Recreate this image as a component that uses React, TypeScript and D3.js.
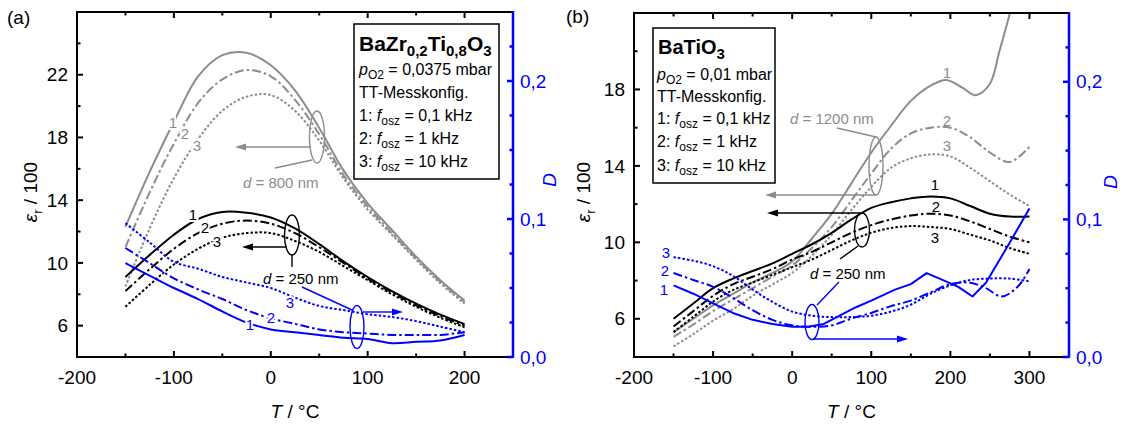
import React from 'react';
import * as d3 from 'd3';

// ---------- Panel (a): BaZr0,2Ti0,8O3 ----------
const tempA = [-150, -125, -100, -75, -50, -25, 0, 25, 50, 75, 100, 125, 150, 175, 200];
const aEpsGray1 = [12.3, 15.8, 19.0, 21.9, 23.25, 23.4, 22.6, 21.0, 18.6, 15.9, 13.8, 12.1, 10.4, 8.9, 7.6];
const aEpsGray2 = [11.0, 14.5, 17.6, 20.2, 21.7, 22.3, 21.9, 20.4, 18.2, 15.6, 13.6, 11.9, 10.3, 8.8, 7.5];
const aEpsGray3 = [8.5, 12.2, 15.4, 17.9, 19.7, 20.6, 20.7, 19.7, 17.8, 15.4, 13.4, 11.8, 10.2, 8.7, 7.4];
const aEpsBlack1 = [9.1, 10.5, 11.8, 12.8, 13.25, 13.2, 12.9, 12.2, 11.2, 10.1, 9.1, 8.2, 7.4, 6.7, 6.1];
const aEpsBlack2 = [8.2, 9.6, 10.9, 11.9, 12.5, 12.7, 12.5, 11.9, 11.0, 10.0, 9.0, 8.1, 7.3, 6.6, 6.0];
const aEpsBlack3 = [7.2, 8.6, 9.9, 10.9, 11.6, 11.9, 11.9, 11.4, 10.7, 9.8, 8.9, 8.0, 7.2, 6.5, 5.9];
const aDBlue1 = [0.068, 0.059, 0.05, 0.042, 0.033, 0.025, 0.02, 0.018, 0.016, 0.014, 0.013, 0.01, 0.011, 0.012, 0.016];
const aDBlue2 = [0.079, 0.068, 0.057, 0.049, 0.042, 0.034, 0.028, 0.024, 0.02, 0.018, 0.017, 0.016, 0.016, 0.016, 0.018];
const aDBlue3 = [0.097, 0.083, 0.069, 0.064, 0.058, 0.054, 0.05, 0.043, 0.037, 0.034, 0.031, 0.029, 0.026, 0.022, 0.018];

// ---------- Panel (b): BaTiO3 ----------
const tempB = [-150, -125, -100, -75, -50, -25, 0, 25, 50, 75, 100, 125, 150, 175, 200, 225, 250, 275, 300];
const tempBGray1 = [-150, -125, -100, -75, -50, -25, 0, 25, 50, 75, 100, 125, 150, 175, 195, 215, 232, 250, 262, 276, 290];
const bEpsGray1 = [5.3, 6.0, 6.7, 7.3, 7.9, 8.4, 9.0, 10.2, 11.5, 13.1, 14.7, 16.1, 17.4, 18.2, 18.5, 18.1, 17.7, 18.3, 20.0, 22.1, 24.5];
const bEpsGray2 = [5.05, 5.7, 6.4, 7.0, 7.6, 8.2, 8.8, 9.7, 10.8, 12.2, 13.6, 14.9, 15.7, 16.0, 16.0, 15.5, 14.7, 14.2, 15.0];
const bEpsGray3 = [4.55, 5.2, 5.9, 6.5, 7.2, 7.8, 8.4, 9.3, 10.4, 11.7, 12.9, 13.9, 14.4, 14.6, 14.5, 13.9, 13.2, 12.5, 11.9];
const bEpsBlack1 = [6.0, 6.8, 7.6, 8.1, 8.5, 8.9, 9.4, 9.9, 10.5, 11.2, 11.8, 12.1, 12.3, 12.4, 12.3, 11.9, 11.5, 11.35, 11.35];
const bEpsBlack2 = [5.6, 6.4, 7.2, 7.8, 8.2, 8.6, 9.1, 9.5, 10.0, 10.5, 10.9, 11.2, 11.4, 11.5, 11.4, 11.1, 10.7, 10.3, 10.0];
const bEpsBlack3 = [5.3, 6.1, 6.9, 7.5, 7.9, 8.3, 8.7, 9.1, 9.6, 10.1, 10.5, 10.75, 10.85, 10.8, 10.7, 10.4, 10.1, 9.7, 9.4];
const tempBBlue1 = [-150, -125, -100, -75, -50, -25, 0, 20, 40, 60, 80, 100, 130, 150, 170, 190, 210, 228, 245, 275, 300];
const bDBlue1 = [0.052, 0.046, 0.039, 0.032, 0.027, 0.024, 0.022, 0.022, 0.024, 0.03, 0.036, 0.041, 0.049, 0.053, 0.061, 0.056, 0.051, 0.044, 0.054, 0.083, 0.108];
const tempBBlue2 = [-150, -125, -100, -75, -50, -25, 0, 25, 50, 75, 100, 125, 150, 175, 200, 225, 245, 265, 285, 300];
const bDBlue2 = [0.061, 0.056, 0.051, 0.043, 0.034, 0.027, 0.023, 0.022, 0.023, 0.028, 0.032, 0.037, 0.041, 0.047, 0.053, 0.054, 0.05, 0.044, 0.051, 0.064];
const bDBlue3 = [0.0725, 0.07, 0.066, 0.059, 0.049, 0.04, 0.033, 0.03, 0.029, 0.029, 0.03, 0.033, 0.038, 0.046, 0.052, 0.056, 0.057, 0.057, 0.055];

const xMajorA = [-200, -100, 0, 100, 200];
const xMinorA = [-150, -50, 50, 150];
const xMajorB = [-200, -100, 0, 100, 200, 300];
const xMinorB = [-150, -50, 50, 150, 250];
const epsMajorA = [6, 10, 14, 18, 22];
const epsMinorA = [8, 12, 16, 20, 24];
const epsMajorB = [6, 10, 14, 18];
const epsMinorB = [8, 12, 16, 20];
const dMajor = [0, 0.1, 0.2];
const dMinor = [0.025, 0.05, 0.075, 0.125, 0.15, 0.175, 0.225];
const dLabels = ['0,0', '0,1', '0,2'];

const FONT = '"Liberation Sans", Arial, Helvetica, sans-serif';
const BLUE = '#0000ff';
const GRAY = '#8c8c8c';
const DASHDOT = '9 3 2.5 3';
const DOT = '2.5 2';
const TICK_FS = 19;

type Series = { t: number[]; v: number[]; color: string; dash?: string; axis: 'eps' | 'D'; linear?: boolean };

function Arrow({ x1, y1, x2, y2, color }: { x1: number; y1: number; x2: number; y2: number; color: string }) {
  const ang = Math.atan2(y2 - y1, x2 - x1);
  const L = 11, W = 3.5;
  const bx = x2 - L * Math.cos(ang), by = y2 - L * Math.sin(ang);
  const px = -Math.sin(ang) * W, py = Math.cos(ang) * W;
  return (
    <g>
      <line x1={x1} y1={y1} x2={bx} y2={by} stroke={color} strokeWidth={1.4} />
      <polygon points={`${x2},${y2} ${bx + px},${by + py} ${bx - px},${by - py}`} fill={color} />
    </g>
  );
}

type PanelProps = {
  id: string;
  left: number; right: number; top: number; bottom: number;
  xDomain: [number, number];
  epsDomain: [number, number];
  xMajor: number[]; xMinor: number[];
  epsMajor: number[]; epsMinor: number[];
  series: Series[];
  children?: React.ReactNode;
};

function Panel(p: PanelProps) {
  const x = d3.scaleLinear().domain(p.xDomain).range([p.left, p.right]);
  const ye = d3.scaleLinear().domain(p.epsDomain).range([p.bottom, p.top]);
  const yd = d3.scaleLinear().domain([0, 0.25]).range([p.bottom, p.top]);
  const clipId = 'clip-' + p.id;
  return (
    <g>
      <defs>
        <clipPath id={clipId}>
          <rect x={p.left} y={p.top} width={p.right - p.left} height={p.bottom - p.top} />
        </clipPath>
      </defs>
      <g clipPath={`url(#${clipId})`}>
        {p.series.map((s, i) => {
          const ys = s.axis === 'eps' ? ye : yd;
          const line = d3.line<number>()
            .x((_, j) => x(s.t[j]))
            .y((d) => ys(d))
            .curve(s.linear ? d3.curveLinear : d3.curveCatmullRom.alpha(0.5));
          return (
            <path key={i} d={line(s.v) || ''} fill="none" stroke={s.color} strokeWidth={2}
              strokeDasharray={s.dash} strokeLinejoin="round" />
          );
        })}
      </g>
      {/* frame */}
      <line x1={p.left} y1={p.top} x2={p.right} y2={p.top} stroke="#000" strokeWidth={2} />
      <line x1={p.left} y1={p.bottom} x2={p.right} y2={p.bottom} stroke="#000" strokeWidth={2} />
      <line x1={p.left} y1={p.top - 1} x2={p.left} y2={p.bottom + 1} stroke="#000" strokeWidth={2} />
      <line x1={p.right} y1={p.top - 1} x2={p.right} y2={p.bottom + 1} stroke={BLUE} strokeWidth={2.5} />
      {/* x ticks */}
      {p.xMajor.map((t) => (
        <g key={'xm' + t}>
          <line x1={x(t)} x2={x(t)} y1={p.bottom} y2={p.bottom - 6} stroke="#000" strokeWidth={2} />
          <line x1={x(t)} x2={x(t)} y1={p.top} y2={p.top + 6} stroke="#000" strokeWidth={2} />
          <text x={x(t)} y={p.bottom + 27} textAnchor="middle" fontSize={TICK_FS} fontFamily={FONT}>{String(t)}</text>
        </g>
      ))}
      {p.xMinor.map((t) => (
        <g key={'xn' + t}>
          <line x1={x(t)} x2={x(t)} y1={p.bottom} y2={p.bottom - 3.5} stroke="#000" strokeWidth={2} />
          <line x1={x(t)} x2={x(t)} y1={p.top} y2={p.top + 3.5} stroke="#000" strokeWidth={2} />
        </g>
      ))}
      {/* eps ticks */}
      {p.epsMajor.map((v) => (
        <g key={'em' + v}>
          <line x1={p.left} x2={p.left + 6} y1={ye(v)} y2={ye(v)} stroke="#000" strokeWidth={2} />
          <text x={p.left - 9} y={ye(v)} dy="0.35em" textAnchor="end" fontSize={TICK_FS} fontFamily={FONT}>{String(v)}</text>
        </g>
      ))}
      {p.epsMinor.map((v) => (
        <line key={'en' + v} x1={p.left} x2={p.left + 3.5} y1={ye(v)} y2={ye(v)} stroke="#000" strokeWidth={2} />
      ))}
      {/* D ticks */}
      {dMajor.map((v, i) => (
        <g key={'dm' + v}>
          <line x1={p.right} x2={p.right - 6} y1={yd(v)} y2={yd(v)} stroke={BLUE} strokeWidth={2.5} />
          <text x={p.right + 7} y={yd(v)} dy="0.35em" textAnchor="start" fontSize={TICK_FS} fontFamily={FONT} fill={BLUE}>{dLabels[i]}</text>
        </g>
      ))}
      {dMinor.map((v) => (
        <line key={'dn' + v} x1={p.right} x2={p.right - 3.5} y1={yd(v)} y2={yd(v)} stroke={BLUE} strokeWidth={2.5} />
      ))}
      {/* axis titles */}
      <text x={(p.left + p.right) / 2} y={418} textAnchor="middle" fontSize={TICK_FS} fontFamily={FONT}>
        <tspan fontStyle="italic">T</tspan> / °C
      </text>
      {p.children}
    </g>
  );
}

function EpsLabel({ cx, cy }: { cx: number; cy: number }) {
  return (
    <text transform={`translate(${cx},${cy}) rotate(-90)`} textAnchor="middle" fontSize={TICK_FS} fontFamily={FONT}>
      <tspan fontStyle="italic">ε</tspan>
      <tspan fontSize={13} dy={5}>r</tspan>
      <tspan dy={-5}> / 100</tspan>
    </text>
  );
}

function DLabel({ cx, cy }: { cx: number; cy: number }) {
  return (
    <text transform={`translate(${cx},${cy}) rotate(-90)`} textAnchor="middle" fontSize={TICK_FS} fontFamily={FONT} fill={BLUE} fontStyle="italic">D</text>
  );
}

function CurveLabel({ x, y, t, color, halo }: { x: number; y: number; t: string; color: string; halo?: boolean }) {
  return (
    <text x={x} y={y} dy="0.35em" textAnchor="middle" fontSize={15} fontFamily={FONT} fill={color}
      stroke={halo ? '#fff' : 'none'} strokeWidth={halo ? 4 : 0} paintOrder="stroke">{t}</text>
  );
}

function FLine({ x, y, n, val }: { x: number; y: number; n: string; val: string }) {
  return (
    <text x={x} y={y} fontSize={16} fontFamily={FONT}>
      {n}: <tspan fontStyle="italic">f</tspan><tspan fontSize={12} dy={4}>osz</tspan><tspan dy={-4}> = {val}</tspan>
    </text>
  );
}

export default function App() {
  const seriesA: Series[] = [
    { t: tempA, v: aEpsGray1, color: GRAY, axis: 'eps' },
    { t: tempA, v: aEpsGray2, color: GRAY, dash: DASHDOT, axis: 'eps' },
    { t: tempA, v: aEpsGray3, color: GRAY, dash: DOT, axis: 'eps' },
    { t: tempA, v: aEpsBlack1, color: '#000', axis: 'eps' },
    { t: tempA, v: aEpsBlack2, color: '#000', dash: DASHDOT, axis: 'eps' },
    { t: tempA, v: aEpsBlack3, color: '#000', dash: DOT, axis: 'eps' },
    { t: tempA, v: aDBlue1, color: BLUE, axis: 'D' },
    { t: tempA, v: aDBlue2, color: BLUE, dash: DASHDOT, axis: 'D' },
    { t: tempA, v: aDBlue3, color: BLUE, dash: DOT, axis: 'D' },
  ];
  const seriesB: Series[] = [
    { t: tempBGray1, v: bEpsGray1, color: GRAY, axis: 'eps' },
    { t: tempB, v: bEpsGray2, color: GRAY, dash: DASHDOT, axis: 'eps' },
    { t: tempB, v: bEpsGray3, color: GRAY, dash: DOT, axis: 'eps' },
    { t: tempB, v: bEpsBlack1, color: '#000', axis: 'eps' },
    { t: tempB, v: bEpsBlack2, color: '#000', dash: DASHDOT, axis: 'eps' },
    { t: tempB, v: bEpsBlack3, color: '#000', dash: DOT, axis: 'eps' },
    { t: tempBBlue1, v: bDBlue1, color: BLUE, axis: 'D', linear: true },
    { t: tempBBlue2, v: bDBlue2, color: BLUE, dash: DASHDOT, axis: 'D' },
    { t: tempB, v: bDBlue3, color: BLUE, dash: DOT, axis: 'D' },
  ];

  return (
    <svg width={1133} height={426} style={{ position: 'absolute', left: 0, top: 0, background: '#fff' }}>
      <rect x={0} y={0} width={1133} height={426} fill="#fff" />
      {/* Panel (a) */}
      <text x={7} y={24} fontSize={TICK_FS} fontFamily={FONT}>(a)</text>
      <Panel id="a" left={77} right={513} top={12} bottom={357} xDomain={[-200, 250]} epsDomain={[4, 26]}
        xMajor={xMajorA} xMinor={xMinorA} epsMajor={epsMajorA} epsMinor={epsMinorA} series={seriesA}>
        {/* gray annotation d = 800 nm */}
        <ellipse cx={317} cy={137} rx={7.5} ry={26} fill="none" stroke={GRAY} strokeWidth={1.4} />
        <Arrow x1={311} y1={147} x2={235} y2={147} color={GRAY} />
        <line x1={275} y1={168} x2={312} y2={160} stroke={GRAY} strokeWidth={1.4} />
        <text x={243} y={188} fontSize={15} fontFamily={FONT} fill={GRAY}>
          <tspan fontStyle="italic">d</tspan> = 800 nm
        </text>
        {/* black annotation d = 250 nm */}
        <ellipse cx={292} cy={235} rx={7.5} ry={20} fill="none" stroke="#000" strokeWidth={1.4} />
        <Arrow x1={286} y1={247} x2={242} y2={247} color="#000" />
        <line x1={292} y1={255} x2={292} y2={267} stroke="#000" strokeWidth={1.4} />
        <text x={263} y={284} fontSize={15} fontFamily={FONT} fill="#000">
          <tspan fontStyle="italic">d</tspan> = 250 nm
        </text>
        {/* blue annotation */}
        <line x1={302} y1={287} x2={352} y2={310} stroke={BLUE} strokeWidth={1.4} />
        <ellipse cx={357} cy={327} rx={7} ry={21.5} fill="none" stroke={BLUE} strokeWidth={1.4} />
        <Arrow x1={363} y1={312} x2={403} y2={312} color={BLUE} />
        {/* curve labels */}
        <CurveLabel x={173} y={123} t="1" color={GRAY} halo />
        <CurveLabel x={185} y={134} t="2" color={GRAY} halo />
        <CurveLabel x={197} y={146} t="3" color={GRAY} halo />
        <CurveLabel x={193} y={215} t="1" color="#000" halo />
        <CurveLabel x={205} y={228} t="2" color="#000" halo />
        <CurveLabel x={217} y={242} t="3" color="#000" halo />
        <CurveLabel x={250} y={325} t="1" color={BLUE} halo />
        <CurveLabel x={271} y={318} t="2" color={BLUE} halo />
        <CurveLabel x={290} y={303} t="3" color={BLUE} halo />
        {/* legend box */}
        <rect x={354} y={24} width={145} height={155} fill="#fff" stroke="#000" strokeWidth={1.5} />
        <text x={359} y={51} fontSize={21} fontWeight="bold" fontFamily={FONT}>
          BaZr<tspan fontSize={15} dy={5}>0,2</tspan><tspan dy={-5}>Ti</tspan><tspan fontSize={15} dy={5}>0,8</tspan><tspan dy={-5}>O</tspan><tspan fontSize={15} dy={5}>3</tspan>
        </text>
        <text x={359} y={75} fontSize={16} fontFamily={FONT}>
          <tspan fontStyle="italic">p</tspan><tspan fontSize={12} dy={4}>O2</tspan><tspan dy={-4}> = 0,0375 mbar</tspan>
        </text>
        <text x={359} y={98} fontSize={16} fontFamily={FONT}>TT-Messkonfig.</text>
        <FLine x={359} y={121} n="1" val="0,1 kHz" />
        <FLine x={359} y={144} n="2" val="1 kHz" />
        <FLine x={359} y={167} n="3" val="10 kHz" />
      </Panel>
      <EpsLabel cx={37} cy={192} />
      <DLabel cx={556} cy={180} />

      {/* Panel (b) */}
      <text x={566} y={23} fontSize={TICK_FS} fontFamily={FONT}>(b)</text>
      <Panel id="b" left={634} right={1069} top={13} bottom={357} xDomain={[-200, 350]} epsDomain={[4, 22]}
        xMajor={xMajorB} xMinor={xMinorB} epsMajor={epsMajorB} epsMinor={epsMinorB} series={seriesB}>
        {/* gray annotation d = 1200 nm */}
        <text x={790} y={124} fontSize={15} fontFamily={FONT} fill={GRAY}>
          <tspan fontStyle="italic">d</tspan> = 1200 nm
        </text>
        <line x1={837} y1={128} x2={876} y2={137} stroke={GRAY} strokeWidth={1.4} />
        <ellipse cx={876} cy={166} rx={7} ry={29} fill="none" stroke={GRAY} strokeWidth={1.4} />
        <Arrow x1={876} y1={195} x2={765} y2={195} color={GRAY} />
        {/* black annotation d = 250 nm */}
        <ellipse cx={862} cy={230} rx={7.5} ry={17} fill="none" stroke="#000" strokeWidth={1.4} />
        <Arrow x1={861} y1={213} x2={767} y2={213} color="#000" />
        <line x1={840} y1={259} x2={858} y2={246} stroke="#000" strokeWidth={1.4} />
        <text x={810} y={279} fontSize={15} fontFamily={FONT} fill="#000">
          <tspan fontStyle="italic">d</tspan> = 250 nm
        </text>
        {/* blue annotation */}
        <line x1={839} y1={282} x2={817} y2={305} stroke={BLUE} strokeWidth={1.4} />
        <ellipse cx={812} cy={322} rx={7} ry={17.5} fill="none" stroke={BLUE} strokeWidth={1.4} />
        <Arrow x1={813} y1={339} x2={908} y2={339} color={BLUE} />
        {/* curve labels */}
        <CurveLabel x={947} y={73} t="1" color={GRAY} />
        <CurveLabel x={947} y={121} t="2" color={GRAY} />
        <CurveLabel x={947} y={146} t="3" color={GRAY} />
        <CurveLabel x={935} y={185} t="1" color="#000" />
        <CurveLabel x={936} y={207} t="2" color="#000" />
        <CurveLabel x={935} y={238} t="3" color="#000" />
        <CurveLabel x={666} y={253} t="3" color={BLUE} />
        <CurveLabel x={665} y={271} t="2" color={BLUE} />
        <CurveLabel x={664} y={290} t="1" color={BLUE} />
        {/* legend box */}
        <rect x={653} y={28} width={122} height={155} fill="#fff" stroke="#000" strokeWidth={1.5} />
        <text x={658} y={54} fontSize={20} fontWeight="bold" fontFamily={FONT}>
          BaTiO<tspan fontSize={15} dy={5}>3</tspan>
        </text>
        <text x={657} y={80} fontSize={16} fontFamily={FONT}>
          <tspan fontStyle="italic">p</tspan><tspan fontSize={12} dy={4}>O2</tspan><tspan dy={-4}> = 0,01 mbar</tspan>
        </text>
        <text x={657} y={102} fontSize={16} fontFamily={FONT}>TT-Messkonfig.</text>
        <FLine x={657} y={124} n="1" val="0,1 kHz" />
        <FLine x={657} y={147} n="2" val="1 kHz" />
        <FLine x={657} y={171} n="3" val="10 kHz" />
      </Panel>
      <EpsLabel cx={590} cy={192} />
      <DLabel cx={1117} cy={182} />
    </svg>
  );
}
